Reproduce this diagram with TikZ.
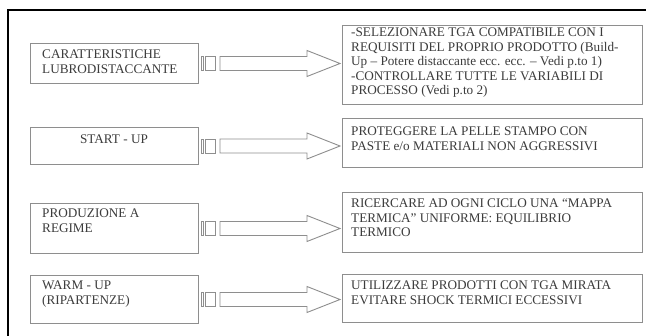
\documentclass[tikz,border=0pt]{standalone}
\usepackage{fontspec}
\setmainfont{Liberation Serif}
\usetikzlibrary{calc}
\definecolor{boxline}{HTML}{8E8E8E}
\definecolor{txtcol}{HTML}{3C3C3C}
\tikzset{
  box/.style={draw=boxline, line width=1pt, rectangle, inner sep=0pt, anchor=north west},
  txt/.style={text=txtcol, align=left, inner sep=0pt, anchor=north west, font=\fontsize{13.2}{14.5}\selectfont},
  arr/.style={draw=boxline, line width=0.9pt, fill=white, line join=miter},
}
\newcommand{\blockarrow}[2]{%
  \path let \p1=(#1.east), \p2=(#2.west) in
    coordinate (s) at (\x1,\y1)
    coordinate (h) at (\x2-35pt,\y1)
    coordinate (t) at (\x2-2pt,\y1);
  \draw[arr] ($(s)+(2pt,-7pt)$) rectangle ($(s)+(4.5pt,7pt)$);
  \draw[arr] ($(s)+(6pt,-7pt)$) rectangle ($(s)+(16pt,7pt)$);
  \draw[arr] ($(s)+(21pt,-7pt)$) -- ($(h)+(0,-7pt)$) -- ($(h)+(0,-13pt)$) -- (t)
     -- ($(h)+(0,13pt)$) -- ($(h)+(0,7pt)$) -- ($(s)+(21pt,7pt)$) -- cycle;
}
\begin{document}
\begin{tikzpicture}[x=1pt,y=-1pt]
\useasboundingbox (0,0) rectangle (646,336);
\clip (0,0) rectangle (646,336);
\fill[white] (0,0) rectangle (646,336);
\draw[black, line width=1.2pt] (8,10) rectangle (680,360);

% left boxes
\node[box, minimum width=168pt, minimum height=40pt] (L1) at (30,43) {};
\node[box, minimum width=168pt, minimum height=37pt] (L2) at (30,127) {};
\node[box, minimum width=168pt, minimum height=50pt] (L3) at (30,203) {};
\node[box, minimum width=168pt, minimum height=48pt] (L4) at (30,275) {};

% right boxes
\node[box, minimum width=300pt, minimum height=79pt] (R1) at (342,25) {};
\node[box, minimum width=300pt, minimum height=49pt] (R2) at (342,118) {};
\node[box, minimum width=300pt, minimum height=60pt] (R3) at (342,192) {};
\node[box, minimum width=300pt, minimum height=48pt] (R4) at (342,274) {};

% texts left
\node[txt] (tL1) at (42,50) {CARATTERISTICHE\\LUBRODISTACCANTE};
\node[txt, anchor=north] (tL2) at (114,135) {START - UP};
\node[txt] (tL3) at (42,209) {PRODUZIONE A\\REGIME};
\node[txt] (tL4) at (42,281) {WARM - UP\\(RIPARTENZE)};

% texts right
\node[txt] (tR1) at (351,28) {-SELEZIONARE TGA COMPATIBILE CON I\\REQUISITI DEL PROPRIO PRODOTTO (Build-\\Up -- Potere distaccante ecc. ecc. -- Vedi p.to 1)\\-CONTROLLARE TUTTE LE VARIABILI DI\\PROCESSO (Vedi p.to 2)};
\node[txt] (tR2) at (351,127) {PROTEGGERE LA PELLE STAMPO CON\\PASTE e/o MATERIALI NON AGGRESSIVI};
\node[txt] (tR3) at (351,199) {RICERCARE AD OGNI CICLO UNA ``MAPPA\\TERMICA'' UNIFORME: EQUILIBRIO\\TERMICO};
\node[txt] (tR4) at (351,281) {UTILIZZARE PRODOTTI CON TGA MIRATA\\EVITARE SHOCK TERMICI ECCESSIVI};

% arrows
\blockarrow{L1}{R1}
\blockarrow{L2}{R2}
\blockarrow{L3}{R3}
\blockarrow{L4}{R4}
\end{tikzpicture}
\end{document}
